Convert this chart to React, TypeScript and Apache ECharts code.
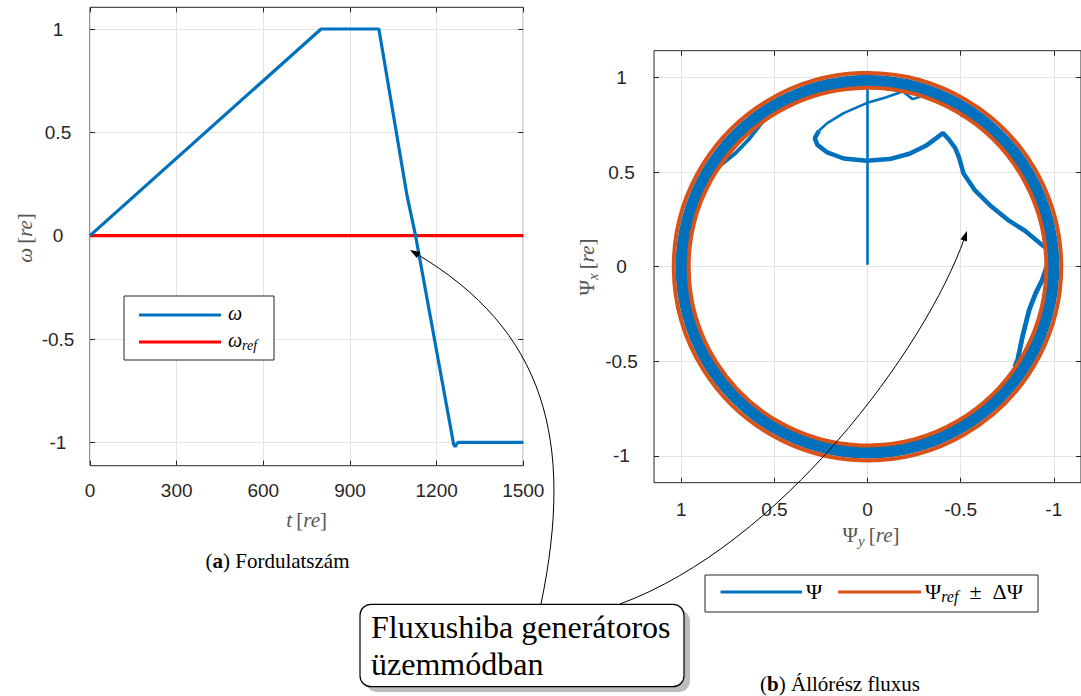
import React, { useEffect, useRef } from "react";
import * as echarts from "echarts";

// ---------- (a) Fordulatszám ----------
const timeT = [0, 800, 1000, 1098, 1127, 1259, 1264, 1274, 1500];
const omega = [0, 1, 1, 0.19, 0, -1.01, -1.02, -1, -1];
const omegaRefT = [0, 1500];
const omegaRef = [0, 0];
const omegaTicks = [-1, -0.5, 0, 0.5, 1];

// ---------- (b) Állórész fluxus ---------- points are [Psi_y, Psi_x]
const psiBand = [0.963, 1.03]; // radial extent of the steady-state circular trajectory
const psiRefRadii = [1.04, 0.96]; // Psi_ref ± ΔPsi
const psiTicks = [-1, -0.5, 0, 0.5, 1];
const psiStart = [[0, 0.01], [0, 0.975]];
const psiFaultThin = [
  [-0.36, 0.915], [-0.295, 0.903], [-0.242, 0.886], [-0.19, 0.926], [-0.101, 0.896],
  [0.005, 0.865], [0.128, 0.812], [0.216, 0.759], [0.26, 0.72],
];
const psiFaultThick = [
  [0.26, 0.72], [0.283, 0.68], [0.269, 0.644], [0.216, 0.604], [0.128, 0.572],
  [0.005, 0.56], [-0.119, 0.569], [-0.225, 0.597], [-0.313, 0.639], [-0.405, 0.706],
  [-0.436, 0.674], [-0.471, 0.627], [-0.492, 0.575], [-0.515, 0.494], [-0.577, 0.403],
  [-0.665, 0.318], [-0.753, 0.248], [-0.845, 0.19], [-0.947, 0.107], [-0.975, 0.095],
];
const psiChord = [
  [0.87, 0.49], [0.797, 0.53], [0.709, 0.6], [0.639, 0.671], [0.569, 0.759], [0.52, 0.83],
];
const psiLowerRight = [
  [-0.79, -0.53], [-0.806, -0.492], [-0.832, -0.369], [-0.868, -0.228],
  [-0.903, -0.14], [-0.938, -0.07], [-0.962, 0],
];
const psiBump = [[-0.49, 0.825], [-0.505, 0.8], [-0.555, 0.776], [-0.575, 0.785]];

const SANS = "'Liberation Sans', Arial, Helvetica, sans-serif";
const SERIF = "'Liberation Serif', 'Times New Roman', serif";
const BLUE = "#0072BD";
const RED = "#FF0000";
const ORANGE = "#D95319";
const AXIS = "#262626";
const GRID = "#e3e3e3";
const NAME = "#555555";

let measureCtx: CanvasRenderingContext2D | null = null;
function textWidth(text: string, size: number, italic: boolean) {
  if (!measureCtx) measureCtx = document.createElement("canvas").getContext("2d");
  measureCtx!.font = `${italic ? "italic " : ""}${size}px ${SERIF}`;
  return measureCtx!.measureText(text).width;
}

type Part = { t: string; i?: boolean; sub?: boolean };
function mathText(parts: Part[], size: number, color: string, align: "left" | "center", z = 110) {
  const subSize = Math.round(size * 0.72);
  const widths = parts.map((p) => textWidth(p.t, p.sub ? subSize : size, !!p.i));
  const total = widths.reduce((a, b) => a + b, 0);
  let x = align === "center" ? -total / 2 : 0;
  return parts.map((p, k) => {
    const el = {
      type: "text",
      x,
      y: p.sub ? size * 0.27 : 0,
      z,
      style: {
        text: p.t,
        fontSize: p.sub ? subSize : size,
        fontFamily: SERIF,
        fontStyle: p.i ? "italic" : "normal",
        fill: color,
        align: "left",
        verticalAlign: "middle",
        textAlign: "left",
        textVerticalAlign: "middle",
      },
    };
    x += widths[k];
    return el;
  });
}

function arrow(p0: number[], p1: number[], p2: number[], p3: number[]) {
  const dx = p3[0] - p2[0];
  const dy = p3[1] - p2[1];
  const len = Math.hypot(dx, dy);
  const ux = dx / len, uy = dy / len;
  const L = 10, H = 3.5;
  const bx = p3[0] - ux * L, by = p3[1] - uy * L;
  return [
    {
      type: "bezierCurve",
      shape: { x1: p0[0], y1: p0[1], cpx1: p1[0], cpy1: p1[1], cpx2: p2[0], cpy2: p2[1], x2: bx + ux * 3, y2: by + uy * 3 },
      style: { stroke: "#000", lineWidth: 1, fill: "none" },
      z: 100,
    },
    {
      type: "polygon",
      shape: { points: [[p3[0], p3[1]], [bx - uy * H, by + ux * H], [bx + uy * H, by - ux * H]] },
      style: { fill: "#000" },
      z: 100,
    },
  ];
}

const tickStyle = { show: true, inside: true, length: 5, lineStyle: { color: AXIS, width: 1 } };
const noLine = { show: false, onZero: false };

function tickAxis(extra: any) {
  return {
    type: "value",
    axisLine: noLine,
    axisTick: tickStyle,
    axisLabel: { show: false },
    splitLine: { show: false },
    ...extra,
  };
}

function labelStyle(margin: number, extra: any = {}) {
  return {
    show: true, fontSize: 19, fontFamily: SANS, color: AXIS, margin,
    formatter: (v: number) => String(v),
    ...extra,
  };
}

function buildOption() {
  const gridSplit = { show: true, lineStyle: { color: GRID, width: 1 } };
  const psiLine = (name: string, data: number[][], width: number) => ({
    name,
    type: "line",
    xAxisIndex: 2,
    yAxisIndex: 2,
    data,
    showSymbol: false,
    symbol: "none",
    lineStyle: { color: BLUE, width },
    itemStyle: { color: BLUE },
    z: 3,
  });

  const graphics: any[] = [];
  // axis names
  graphics.push({
    type: "group", x: 25, y: 238, rotation: Math.PI / 2,
    children: mathText([{ t: "ω", i: true }, { t: "\u2009[" }, { t: "re", i: true }, { t: "]" }], 21, NAME, "center"),
  });
  graphics.push({
    type: "group", x: 306.6, y: 520,
    children: mathText([{ t: "t", i: true }, { t: "\u2009[" }, { t: "re", i: true }, { t: "]" }], 21, NAME, "center"),
  });
  graphics.push({
    type: "group", x: 871, y: 535,
    children: mathText([{ t: "Ψ" }, { t: "y", i: true, sub: true }, { t: "\u2009[" }, { t: "re", i: true }, { t: "]" }], 21, NAME, "center"),
  });
  graphics.push({
    type: "group", x: 587, y: 267, rotation: Math.PI / 2,
    children: mathText([{ t: "Ψ" }, { t: "x", i: true, sub: true }, { t: "\u2009[" }, { t: "re", i: true }, { t: "]" }], 21, NAME, "center"),
  });

  // left legend
  graphics.push({ type: "rect", shape: { x: 124, y: 296, width: 150, height: 64 }, style: { fill: "#fff", stroke: AXIS, lineWidth: 1 }, z: 100 });
  graphics.push({ type: "line", shape: { x1: 139, y1: 315, x2: 221, y2: 315 }, style: { stroke: BLUE, lineWidth: 3 }, z: 101 });
  graphics.push({ type: "line", shape: { x1: 139, y1: 342, x2: 221, y2: 342 }, style: { stroke: RED, lineWidth: 3 }, z: 101 });
  graphics.push({ type: "group", x: 228, y: 313, children: mathText([{ t: "ω", i: true }], 20, "#000", "left") });
  graphics.push({ type: "group", x: 228, y: 340, children: mathText([{ t: "ω", i: true }, { t: "ref", i: true, sub: true }], 20, "#000", "left") });

  // right legend
  graphics.push({ type: "rect", shape: { x: 705, y: 575, width: 333, height: 37 }, style: { fill: "#fff", stroke: AXIS, lineWidth: 1 }, z: 100 });
  graphics.push({ type: "line", shape: { x1: 720.5, y1: 592, x2: 802, y2: 592 }, style: { stroke: BLUE, lineWidth: 3 }, z: 101 });
  graphics.push({ type: "line", shape: { x1: 838, y1: 592, x2: 921, y2: 592 }, style: { stroke: ORANGE, lineWidth: 3 }, z: 101 });
  graphics.push({ type: "group", x: 806, y: 591, children: mathText([{ t: "Ψ" }], 22, "#000", "left") });
  graphics.push({
    type: "group", x: 925, y: 591,
    children: mathText([{ t: "Ψ" }, { t: "ref", i: true, sub: true }, { t: "\u2002±\u2002ΔΨ" }], 22, "#000", "left"),
  });

  // captions
  const capStyle = (text: string) => ({
    text, fontSize: 21, fontFamily: SERIF, fill: "#000",
    align: "center", verticalAlign: "middle", textAlign: "center", textVerticalAlign: "middle",
    rich: { b: { fontWeight: "bold", fontSize: 21, fontFamily: SERIF, fill: "#000" } },
  });
  graphics.push({ type: "text", x: 277.5, y: 561, z: 100, style: capStyle("({b|a}) Fordulatszám") });
  graphics.push({ type: "text", x: 840, y: 683.5, z: 100, style: capStyle("({b|b}) Állórész fluxus") });

  // arrows
  graphics.push(...arrow([541, 604], [575, 440], [545, 330], [410, 250]));
  graphics.push(...arrow([620, 604], [780, 545], [925, 350], [967, 231]));

  // callout box
  graphics.push({ type: "rect", shape: { x: 366, y: 610, width: 324, height: 82, r: 11 }, style: { fill: "#bdbdbd" }, z: 102 });
  graphics.push({ type: "rect", shape: { x: 360, y: 604.3, width: 324, height: 82.4, r: 11 }, style: { fill: "#fff", stroke: "#000", lineWidth: 1.2 }, z: 103 });
  graphics.push({
    type: "text", x: 371, y: 626.5, z: 104,
    style: { text: "Fluxushiba generátoros", fontSize: 32, fontFamily: SERIF, fill: "#000", align: "left", verticalAlign: "middle", textAlign: "left", textVerticalAlign: "middle" },
  });
  graphics.push({
    type: "text", x: 371, y: 664.3, z: 104,
    style: { text: "üzemmódban", fontSize: 32, fontFamily: SERIF, fill: "#000", align: "left", verticalAlign: "middle", textAlign: "left", textVerticalAlign: "middle" },
  });

  return {
    animation: false,
    backgroundColor: "#fff",
    grid: [
      { left: 90, top: 7.3, width: 433.3, height: 458.4, show: true, borderColor: AXIS, borderWidth: 1, backgroundColor: "transparent" },
      { left: 654, top: 50.7, width: 433.5, height: 432, show: true, borderColor: AXIS, borderWidth: 1, backgroundColor: "transparent" },
    ],
    xAxis: [
      {
        type: "value", gridIndex: 0, min: 0, max: 1500, interval: 300,
        axisLine: noLine,
        axisTick: tickStyle,
        axisLabel: labelStyle(15),
        splitLine: gridSplit,
      },
      tickAxis({ gridIndex: 0, position: "top", min: 0, max: 1500, interval: 300 }),
      {
        type: "value", gridIndex: 1, min: -1.146, max: 1.146, inverse: true,
        axisLine: noLine,
        axisTick: { ...tickStyle, customValues: psiTicks },
        axisLabel: labelStyle(17, { customValues: psiTicks }),
        splitLine: gridSplit,
      },
      tickAxis({ gridIndex: 1, position: "top", min: -1.146, max: 1.146, inverse: true, axisTick: { ...tickStyle, customValues: psiTicks } }),
    ],
    yAxis: [
      {
        type: "value", gridIndex: 0, min: -1.113, max: 1.105,
        axisLine: noLine,
        axisTick: { ...tickStyle, customValues: omegaTicks },
        axisLabel: labelStyle(32, { customValues: omegaTicks, align: "center" }),
        splitLine: gridSplit,
      },
      tickAxis({ gridIndex: 0, position: "right", min: -1.113, max: 1.105, axisTick: { ...tickStyle, customValues: omegaTicks } }),
      {
        type: "value", gridIndex: 1, min: -1.142, max: 1.142,
        axisLine: noLine,
        axisTick: { ...tickStyle, customValues: psiTicks },
        axisLabel: labelStyle(32.5, { customValues: psiTicks, align: "center" }),
        splitLine: gridSplit,
      },
      tickAxis({ gridIndex: 1, position: "right", min: -1.142, max: 1.142, axisTick: { ...tickStyle, customValues: psiTicks } }),
    ],
    series: [
      {
        name: "ω_ref", type: "line", xAxisIndex: 0, yAxisIndex: 0,
        data: omegaRefT.map((t, i) => [t, omegaRef[i]]),
        showSymbol: false, symbol: "none",
        lineStyle: { color: RED, width: 3.2 }, itemStyle: { color: RED }, z: 2,
      },
      {
        name: "ω", type: "line", xAxisIndex: 0, yAxisIndex: 0,
        data: timeT.map((t, i) => [t, omega[i]]),
        showSymbol: false, symbol: "none",
        lineStyle: { color: BLUE, width: 3.2 }, itemStyle: { color: BLUE }, z: 3,
      },
      {
        name: "Ψ", type: "custom", xAxisIndex: 2, yAxisIndex: 2,
        data: [[0, 0, psiBand[0], psiBand[1]]],
        encode: { x: 0, y: 1 },
        renderItem: (params: any, api: any) => {
          const c = api.coord([api.value(0), api.value(1)]);
          const r0 = api.size([api.value(2), 0])[0];
          const r = api.size([api.value(3), 0])[0];
          return { type: "ring", shape: { cx: c[0], cy: c[1], r, r0 }, style: { fill: BLUE } };
        },
        z: 2,
        silent: true,
      },
      psiLine("Ψ", psiStart, 2.6),
      psiLine("Ψ", psiFaultThin, 2.6),
      psiLine("Ψ", psiFaultThick, 4.5),
      psiLine("Ψ", psiChord, 3.8),
      psiLine("Ψ", psiLowerRight, 4.8),
      psiLine("Ψ", psiBump, 3),
      {
        name: "Ψ_ref ± ΔΨ", type: "custom", xAxisIndex: 2, yAxisIndex: 2,
        data: psiRefRadii.map((r) => [0, 0, r]),
        encode: { x: 0, y: 1 },
        renderItem: (params: any, api: any) => {
          const c = api.coord([api.value(0), api.value(1)]);
          const r = api.size([api.value(2), 0])[0];
          return { type: "circle", shape: { cx: c[0], cy: c[1], r }, style: { fill: "none", stroke: ORANGE, lineWidth: 4 } };
        },
        z: 4,
        silent: true,
      },
    ],
    graphic: { elements: graphics },
  };
}

export default function App() {
  const ref = useRef<HTMLDivElement>(null);
  useEffect(() => {
    if (!ref.current) return;
    const chart = echarts.init(ref.current, null, { renderer: "svg" });
    chart.setOption(buildOption() as any);
    return () => chart.dispose();
  }, []);
  return (
    <div
      ref={ref}
      style={{ position: "absolute", left: 0, top: 0, width: 1081, height: 696, background: "#fff" }}
    />
  );
}
